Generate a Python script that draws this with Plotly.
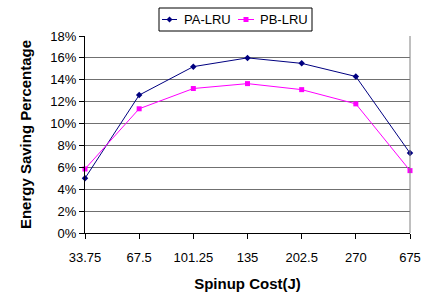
import plotly.graph_objects as go

categories = ["33.75", "67.5", "101.25", "135", "202.5", "270", "675"]
pa_lru = [5.0, 12.6, 15.2, 16.0, 15.5, 14.3, 7.3]
pb_lru = [5.85, 11.35, 13.2, 13.65, 13.1, 11.8, 5.7]
y_ticks = [0, 2, 4, 6, 8, 10, 12, 14, 16, 18]
y_labels = [f"{v}%" for v in y_ticks]
series_names = ["PA-LRU", "PB-LRU"]
series_colors = ["#000080", "#FF00FF"]

W, H = 427, 296
L, R, T, B = 85, 17, 36, 63
PW, PH = W - L - R, H - T - B


def px(x):
    return (x - L) / PW


def py(y):
    return (H - B - y) / PH


fig = go.Figure()
fig.add_trace(go.Scatter(x=categories, y=pa_lru, mode="lines+markers", name=series_names[0],
                         line=dict(color=series_colors[0], width=1),
                         marker=dict(symbol="diamond", size=5, color=series_colors[0]),
                         cliponaxis=False))
fig.add_trace(go.Scatter(x=categories, y=pb_lru, mode="lines+markers", name=series_names[1],
                         line=dict(color=series_colors[1], width=1),
                         marker=dict(symbol="square", size=5, color=series_colors[1]),
                         cliponaxis=False))

fig.update_layout(
    width=W, height=H,
    margin=dict(l=L, r=R, t=T, b=B, autoexpand=False),
    paper_bgcolor="white", plot_bgcolor="white",
    font=dict(family="Liberation Sans, Arial", size=13, color="#000000"),
    showlegend=False,
    xaxis=dict(type="category", range=[0, 6], showgrid=False,
               showline=True, linecolor="#000000", linewidth=1,
               ticks="outside", ticklen=5, tickcolor="#000000",
               ticklabeloverflow="allow", ticklabelstandoff=7,
               title=dict(text="<b>Spinup Cost(J)</b>", font=dict(size=15), standoff=14),
               mirror=False),
    yaxis=dict(range=[0, 18], tickvals=y_ticks, ticktext=y_labels,
               showgrid=True, gridcolor="#707070", gridwidth=1,
               showline=True, linecolor="#000000", linewidth=1,
               ticks="outside", ticklen=5, tickcolor="#000000",
               title=dict(text="<b>Energy Saving Percentage</b>", font=dict(size=15), standoff=15),
               zeroline=False),
)
fig.add_shape(type="line", xref="paper", yref="paper", x0=1, x1=1, y0=0, y1=1,
              line=dict(color="#808080", width=1))

# custom legend box
fig.add_shape(type="rect", xref="paper", yref="paper",
              x0=px(159), x1=px(312), y0=py(31), y1=py(8),
              line=dict(color="#000000", width=1), fillcolor="white")
ly = py(19.5)
items = [(162, 177, 182), (238, 254, 258)]
for (x0, x1, tx), name, col, sym in zip(items, series_names, series_colors, ["diamond", "square"]):
    fig.add_shape(type="line", xref="paper", yref="paper", x0=px(x0), x1=px(x1), y0=ly, y1=ly,
                  line=dict(color=col, width=1))
    cx = (x0 + x1) / 2
    if sym == "diamond":
        path = (f"M {px(cx)} {py(19.5 - 3)} L {px(cx + 3)} {ly} L {px(cx)} {py(19.5 + 3)} "
                f"L {px(cx - 3)} {ly} Z")
        fig.add_shape(type="path", xref="paper", yref="paper", path=path,
                      line=dict(color=col, width=0), fillcolor=col)
    else:
        fig.add_shape(type="rect", xref="paper", yref="paper",
                      x0=px(cx - 2.5), x1=px(cx + 2.5), y0=py(22), y1=py(17),
                      line=dict(color=col, width=0), fillcolor=col)
    fig.add_annotation(xref="paper", yref="paper", x=px(tx), y=ly, text=name,
                       showarrow=False, xanchor="left", yanchor="middle",
                       font=dict(size=13, color="#000000"))

fig.write_html("out.html", config={"displayModeBar": False},
               post_script="document.body.style.margin='0';document.body.style.overflow='hidden';")
